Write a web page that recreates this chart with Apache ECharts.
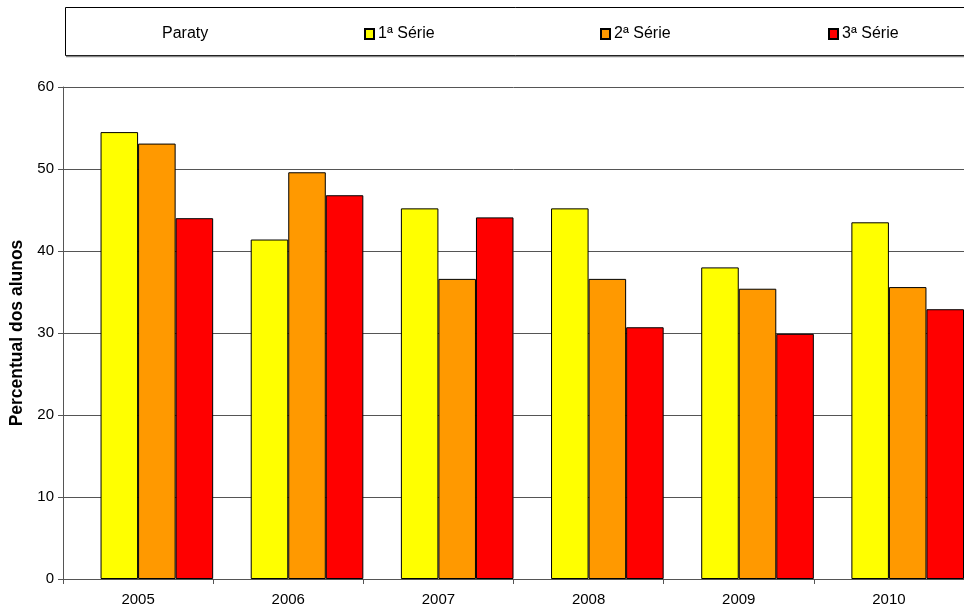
<!DOCTYPE html>
<html>
<head>
<meta charset="utf-8">
<script src="https://cdn.jsdelivr.net/npm/echarts@6/dist/echarts.min.js"></script>
<style>
html,body{margin:0;padding:0;background:#fff;}
#chart{width:964px;height:607px;}
</style>
</head>
<body>
<div id="chart"></div>
<script>
var categories = ['2005', '2006', '2007', '2008', '2009', '2010'];
var serie1 = [54.5, 41.4, 45.2, 45.2, 38.0, 43.5];
var serie2 = [53.1, 49.6, 36.6, 36.6, 35.4, 35.6];
var serie3 = [44.0, 46.8, 44.1, 30.7, 29.9, 32.9];
var seriesNames = ['1ª Série', '2ª Série', '3ª Série'];
var seriesColors = ['#FFFF00', '#FF9900', '#FF0000'];
var placeName = 'Paraty';
var yAxisName = 'Percentual dos alunos';

var FONT = '"Liberation Sans", Arial, sans-serif';
var chart = echarts.init(document.getElementById('chart'));

function legendFor(name, left) {
  return {
    data: [name], left: left, top: 26, padding: 0,
    icon: 'rect', itemWidth: 9, itemHeight: 10, itemGap: 0,
    selectedMode: false,
    textStyle: { fontFamily: FONT, fontSize: 16, color: '#000', padding: [0, 0, 0, -1] }
  };
}

var dataSets = [serie1, serie2, serie3];
var series = [{
  name: '_spacer', type: 'bar', data: categories.map(function(){ return '-'; }),
  barGap: 0, barCategoryGap: 0, silent: true
}];
dataSets.forEach(function (d, i) {
  series.push({
    name: seriesNames[i], type: 'bar', data: d,
    barGap: 0, barCategoryGap: 0,
    itemStyle: { color: seriesColors[i], borderColor: '#000', borderWidth: 1 }
  });
});

chart.setOption({
  animation: false,
  backgroundColor: '#fff',
  grid: { left: 62, right: -7, top: 87, bottom: 28, containLabel: false },
  graphic: [
    { type: 'rect', shape: { x: 65.5, y: 7.5, width: 920, height: 48 },
      style: { fill: '#fff', stroke: '#000', lineWidth: 1 }, z: -1 },
    { type: 'line', shape: { x1: 66, y1: 56.5, x2: 970, y2: 56.5 },
      style: { stroke: '#888', lineWidth: 1.5 }, z: -1 },
    { type: 'text', left: 162, top: 26,
      style: { text: placeName, font: '16px ' + FONT, fill: '#000' } }
  ],
  legend: [
    legendFor(seriesNames[0], 364),
    legendFor(seriesNames[1], 600),
    legendFor(seriesNames[2], 828)
  ],
  xAxis: {
    type: 'category', data: categories,
    axisLine: { lineStyle: { color: '#555', width: 1 } },
    axisTick: { show: true, length: 5, lineStyle: { color: '#555' } },
    axisLabel: { fontFamily: FONT, fontSize: 15, color: '#000', margin: 13 }
  },
  yAxis: {
    type: 'value', min: 0, max: 60, interval: 10,
    name: yAxisName, nameLocation: 'middle', nameRotate: 90, nameGap: 37,
    nameTextStyle: { fontFamily: FONT, fontSize: 17.5, fontWeight: 'bold', color: '#000' },
    axisLine: { show: true, lineStyle: { color: '#555', width: 1 } },
    axisTick: { show: true, length: 5, lineStyle: { color: '#555' } },
    axisLabel: { fontFamily: FONT, fontSize: 15, color: '#000', margin: 9 },
    splitLine: { show: true, lineStyle: { color: '#555', width: 1 } }
  },
  series: series
});
</script>
</body>
</html>
